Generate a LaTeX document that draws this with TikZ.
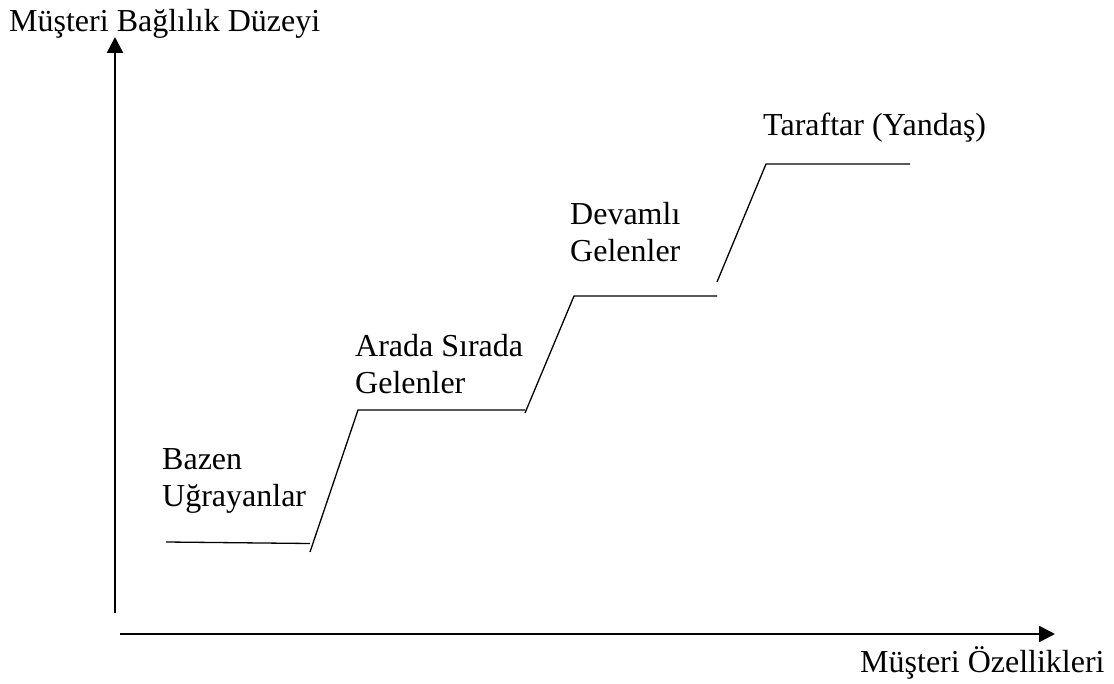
\documentclass[tikz,border=0pt]{standalone}
\usepackage{fontspec}
\setmainfont{Liberation Serif}
\usetikzlibrary{arrows.meta}
\begin{document}
\begin{tikzpicture}[x=1pt,y=-1pt,
  axisline/.style={line width=2.6pt,-{Triangle[length=16pt,width=16pt]}},
  stepline/.style={line width=1.3pt},
  lbl/.style={anchor=base west,inner sep=0pt,align=left,font=\fontsize{32}{37.5}\selectfont}]
\useasboundingbox (0,0) rectangle (1114,684);
% axes
\coordinate (yb) at (115,613);
\coordinate (yt) at (115,37);
\coordinate (xl) at (120,634);
\coordinate (xr) at (1055,634);
\draw[axisline] (yb) -- (yt);
\draw[axisline] (xl) -- (xr);
% steps
\coordinate (a1) at (166,542);
\coordinate (a2) at (310,543.5);
\coordinate (b1) at (310,552);
\coordinate (b2) at (358,410);
\coordinate (c2) at (525,410);
\coordinate (d1) at (525,413);
\coordinate (d2) at (574,296);
\coordinate (e2) at (717,296);
\coordinate (f1) at (717,282);
\coordinate (f2) at (766,164);
\coordinate (g2) at (910,164);
\draw[stepline] (a1) -- (a2);
\draw[stepline] (b1) -- (b2) -- (c2);
\draw[stepline] (d1) -- (d2) -- (e2);
\draw[stepline] (f1) -- (f2) -- (g2);
% labels
\node[lbl] (ylab) at (9,32) {Müşteri Bağlılık Düzeyi};
\node[lbl] (xlab) at (860,672) {Müşteri Özellikleri};
\node[lbl] (s1) at (162,506.5) {Bazen\\Uğrayanlar};
\node[lbl] (s2) at (355,394) {Arada Sırada\\Gelenler};
\node[lbl] (s3) at (570,262) {Devamlı\\Gelenler};
\node[lbl] (s4) at (763,136) {Taraftar (Yandaş)};
\end{tikzpicture}
\end{document}
